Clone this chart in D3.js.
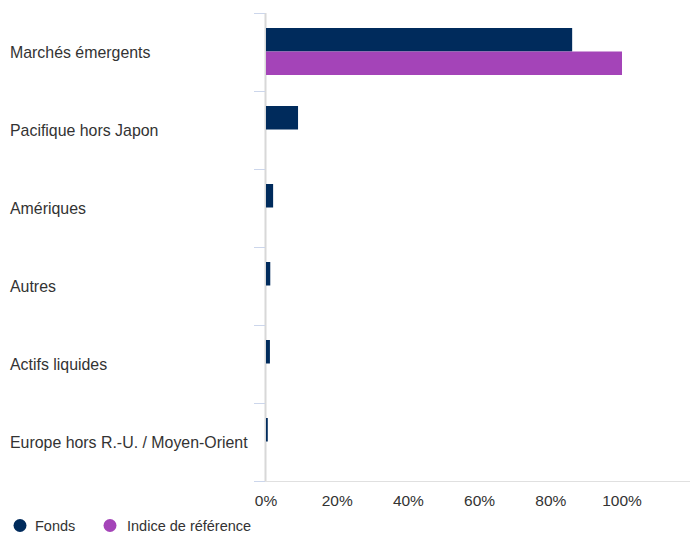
<!DOCTYPE html>
<html><head><meta charset="utf-8">
<script src="https://cdn.jsdelivr.net/npm/d3@7"></script>
<style>body{margin:0;background:#fff}svg{display:block}text{font-family:"Liberation Sans",Arial,Helvetica,sans-serif}</style>
</head><body>
<svg id="c" width="690" height="533"></svg>
<script>
const categories = ["Marchés émergents","Pacifique hors Japon","Amériques","Autres","Actifs liquides","Europe hors R.-U. / Moyen-Orient"];
const seriesNames = ["Fonds","Indice de référence"];
const fonds = [86, 9, 2, 1.2, 1.1, 0.5];
const indice = [100, 0, 0, 0, 0, 0];
const tickValues = [0,20,40,60,80,100];
const colors = ["#002b5c","#a444b8"];

(function(){
const svg = d3.select("#c");
const pLeft = 266, pRight = 690, pTop = 13, pBottom = 481;
const x = d3.scaleLinear().domain([0, 119.1]).range([pLeft, pRight]);
const y = d3.scaleBand().domain(categories).range([pTop, pBottom]);
const barH = 23.5;

svg.append("line").attr("x1", 254).attr("x2", 690).attr("y1", pBottom+0.5).attr("y2", pBottom+0.5).attr("stroke", "#e0e0e0").attr("stroke-width", 1);
svg.append("line").attr("x1", pLeft-0.5).attr("x2", pLeft-0.5).attr("y1", pTop).attr("y2", pBottom).attr("stroke", "#d8d8d8").attr("stroke-width", 2);
const tickPos = categories.map(c => y(c)).concat([pBottom]);
svg.selectAll("line.ct").data(tickPos).enter().append("line").attr("class","ct")
  .attr("x1", 254).attr("x2", pLeft-1).attr("y1", d => Math.round(d)+0.5).attr("y2", d => Math.round(d)+0.5)
  .attr("stroke", "#ccd6eb").attr("stroke-width", 1);

const data = [];
categories.forEach((c, i) => {
  data.push({c, v: fonds[i], s: 0});
  data.push({c, v: indice[i], s: 1});
});
svg.selectAll("rect.bar").data(data.filter(d => d.v > 0)).enter().append("rect").attr("class","bar")
  .attr("x", pLeft)
  .attr("y", d => y(d.c) + y.bandwidth()/2 - barH + d.s*barH - 0.5)
  .attr("width", d => x(d.v) - pLeft)
  .attr("height", barH)
  .attr("fill", d => colors[d.s]);

svg.selectAll("text.cat").data(categories).enter().append("text").attr("class","cat")
  .attr("x", 10).attr("y", d => y(d) + y.bandwidth()/2 + 5.5)
  .attr("font-size", 15.9).attr("fill", "#333").text(d => d);

svg.selectAll("text.xt").data(tickValues).enter().append("text").attr("class","xt")
  .attr("x", d => x(d)).attr("y", 506).attr("text-anchor","middle")
  .attr("font-size", 15.5).attr("fill", "#333").text(d => d + "%");

const leg = [{n: seriesNames[0], cx: 20, tx: 35}, {n: seriesNames[1], cx: 110, tx: 127}];
leg.forEach((l, i) => {
  svg.append("circle").attr("cx", l.cx).attr("cy", 525.5).attr("r", 6.5).attr("fill", colors[i]);
  svg.append("text").attr("x", l.tx).attr("y", 531).attr("font-size", 14.5).attr("fill", "#333").text(l.n);
});
})();
</script>
</body></html>
